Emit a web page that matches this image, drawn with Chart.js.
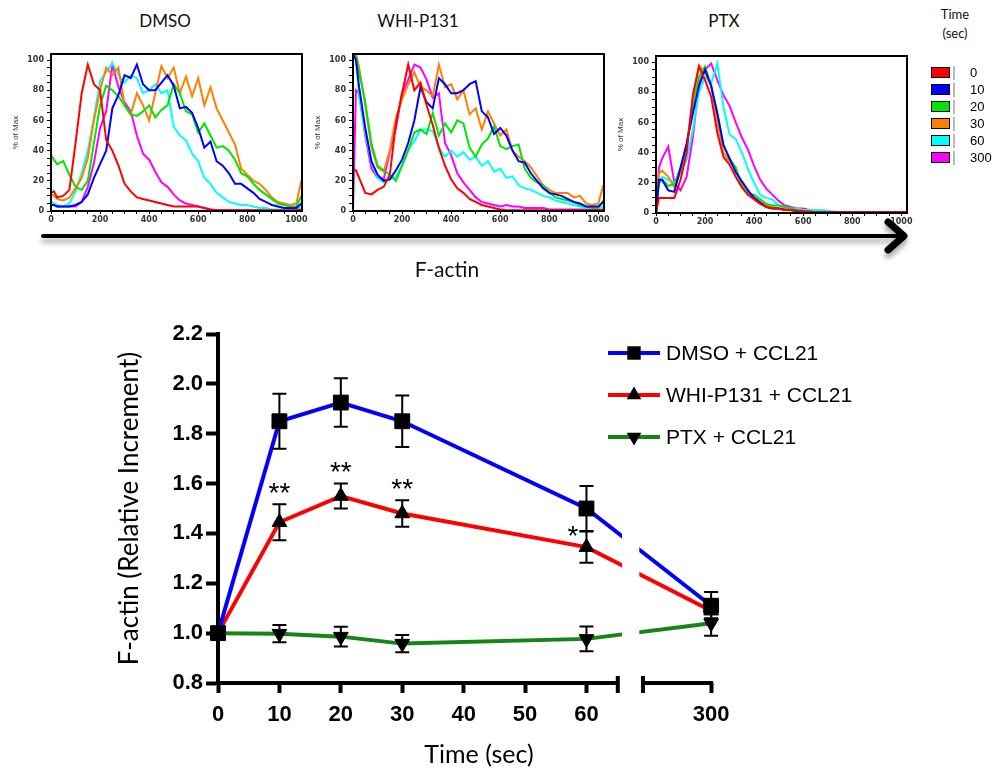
<!DOCTYPE html>
<html>
<head>
<meta charset="utf-8">
<script src="https://cdn.jsdelivr.net/npm/chart.js@4.4.1/dist/chart.umd.min.js"></script>
<style>
  html, body { margin: 0; padding: 0; background: #fff; }
  #page { position: relative; width: 996px; height: 774px; overflow: hidden; }
  canvas { position: absolute; }
  .txt { position: absolute; font-family: Lato, sans-serif; color: #111; white-space: nowrap; transform: translate(-50%, -50%); }
  .panelTitle { font-size: 17px; top: 20px; }
  #histLegend { position: absolute; left: 931px; top: 66px; font-family: 'Liberation Sans', Arial, sans-serif; font-size: 13px; }
  .legRow { position: relative; height: 17px; }
  .legBox { position: absolute; left: 0; top: 1px; width: 17px; height: 9px; border: 1.5px solid #000; }
  .legShade { position: absolute; left: 22px; top: 0; width: 2px; height: 14px; background: #bbb; }
  .legTxt { position: absolute; left: 39px; top: -1px; }
</style>
</head>
<body>
<div id="page">
  <div class="txt panelTitle" style="left:165px">DMSO</div>
  <div class="txt panelTitle" style="left:418px">WHI-P131</div>
  <div class="txt panelTitle" style="left:724px">PTX</div>
  <div class="txt" style="left:955px; top:14px; font-size:13px">Time</div>
  <div class="txt" style="left:955px; top:33px; font-size:13px">(sec)</div>

  <canvas id="histDmso" width="310" height="190" style="left:0px; top:40px"></canvas>
  <canvas id="histWhi" width="310" height="190" style="left:302px; top:40px"></canvas>
  <canvas id="histPtx" width="310" height="190" style="left:605px; top:42px"></canvas>
  <div id="histLegend"></div>

  <svg width="996" height="300" style="position:absolute; left:0; top:0">
    <defs>
      <filter id="sombra" x="-5%" y="-100%" width="110%" height="400%">
        <feDropShadow dx="0" dy="5" stdDeviation="2.5" flood-color="#777" flood-opacity="0.6"/>
      </filter>
    </defs>
    <g filter="url(#sombra)" stroke="#000" fill="none" stroke-linecap="round" stroke-linejoin="round">
      <line x1="43" y1="236" x2="902" y2="236" stroke-width="4"/>
      <polyline points="888,222 904,236 888,250" stroke-width="7"/>
    </g>
  </svg>
  <div class="txt" style="left:447px; top:268px; font-size:21px">F-actin</div>

  <canvas id="mainChart" width="996" height="474" style="left:0px; top:300px"></canvas>
</div>

<script>
// ============================================================
//  Histogramas de F-actin (% of Max)
// ============================================================
const flBins = [0, 12, 25, 50, 75, 100, 125, 150, 175, 200, 225, 250, 275, 300, 325, 350, 375, 400,
                425, 450, 475, 500, 525, 550, 575, 600, 625, 650, 675, 700, 725, 750, 775, 800,
                825, 850, 875, 900, 925, 950, 975, 1000, 1020];
const timeLabels = ['0', '10', '20', '30', '60', '300'];
const histColors = ['#ff0000', '#0000ff', '#00e600', '#ff8000', '#00ffff', '#ff00ff'];

// DMSO
const dmsoT0   = [12, 13, 9, 10, 14, 45, 78, 97, 84, 80, 47, 40, 30, 18, 13, 9, 8, 7, 6, 5, 4, 3, 3, 3, 3, 3, 2, 1,
                  0.5, 0.5, 0.5, 0.5, 0.5, 0.5, 0.5, 0.5, 0.5, 0.5, 0.5, 0.5, 0.5, 0.5, 1];
const dmsoT10  = [4, 4, 3, 3, 3, 4, 6, 11, 22, 31, 40, 68, 77, 90, 88, 97, 84, 80, 80, 85, 90, 83, 68, 69, 65,
                  55, 42, 46, 33, 30, 25, 18, 18, 15, 12, 8, 6, 4, 3, 2, 2, 2, 5];
const dmsoT20  = [37, 34, 31, 33, 24, 16, 14, 20, 45, 70, 83, 80, 76, 70, 64, 63, 66, 70, 62, 67, 70, 84, 78, 66, 64,
                  52, 58, 50, 42, 43, 40, 34, 25, 23, 18, 14, 11, 8, 5, 4, 3, 3, 10];
const dmsoT30  = [11, 10, 8, 7, 9, 15, 22, 35, 60, 80, 95, 90, 95, 70, 64, 78, 70, 60, 78, 96, 88, 95, 78, 89, 76,
                  88, 70, 82, 68, 60, 52, 44, 28, 24, 20, 18, 14, 9, 6, 5, 4, 5, 20];
const dmsoT60  = [6, 5, 4, 3, 5, 13, 25, 40, 62, 86, 92, 98, 90, 85, 90, 88, 78, 80, 84, 78, 80, 56, 50, 47, 38,
                  33, 22, 18, 12, 9, 6, 5, 4, 4, 3, 2, 2, 1, 1, 1, 1, 1, 3];
const dmsoT300 = [4, 4, 3, 3, 3, 3, 6, 16, 32, 55, 66, 97, 82, 72, 66, 50, 38, 34, 26, 19, 16, 11, 7, 5, 4, 3, 2, 1,
                  0.5, 0.5, 0.5, 0.5, 0.5, 0.5, 0.5, 0.5, 0.5, 0.5, 0.5, 0.5, 0.5, 0.5, 0.5];

// WHI-P131
const whiT0   = [27, 27, 22, 12, 11, 14, 16, 24, 58, 78, 97, 80, 85, 70, 57, 42, 30, 21, 15, 12, 8, 6, 4, 3, 2, 1,
                 0.5, 0.5, 0.5, 0.5, 0.5, 0.5, 0.5, 0.5, 0.5, 0.5, 0.5, 0.5, 0.5, 0.5, 0.5, 0.5, 0.5];
const whiT10  = [104, 100, 82, 55, 33, 24, 20, 21, 27, 34, 45, 60, 82, 72, 68, 88, 84, 78, 78, 80, 84, 86, 66, 62, 51,
                 55, 50, 40, 33, 32, 25, 20, 15, 12, 11, 10, 8, 6, 5, 3, 3, 3, 6];
const whiT20  = [104, 104, 92, 72, 45, 30, 27, 24, 20, 30, 40, 52, 54, 51, 65, 50, 58, 52, 60, 58, 42, 36, 44, 48, 56,
                 43, 41, 43, 44, 28, 22, 19, 17, 12, 9, 8, 7, 6, 4, 3, 2, 2, 7];
const whiT30  = [104, 104, 95, 70, 42, 29, 26, 40, 62, 74, 84, 92, 82, 80, 76, 97, 82, 84, 74, 80, 64, 68, 54, 66, 58,
                 50, 54, 40, 36, 33, 29, 23, 17, 14, 12, 12, 12, 9, 10, 5, 4, 5, 17];
const whiT60  = [104, 104, 75, 52, 32, 22, 19, 21, 23, 30, 41, 46, 54, 54, 53, 42, 36, 40, 36, 39, 34, 36, 30, 33, 26,
                 28, 22, 23, 17, 15, 14, 12, 10, 9, 7, 6, 5, 4, 3, 2, 2, 2, 3];
const whiT300 = [0, 80, 78, 50, 28, 22, 21, 39, 55, 78, 87, 97, 95, 87, 75, 78, 45, 37, 25, 19, 14, 9, 6, 5, 4,
                 3, 4, 3, 3, 2, 2, 2, 2, 1, 1, 1, 1, 1, 1, 1, 1, 1, 1];

// PTX
const ptxT0   = [0, 10, 10, 10, 10, 22, 40, 78, 97, 88, 77, 53, 37, 32, 24, 17, 12, 9, 6, 4, 3, 3, 2, 2, 1.5, 1, 1,
                 0.5, 0.5, 0.5, 0.5, 0.5, 0.5, 0.5, 0.5, 0.5, 0.5, 0.5, 0.5, 0.5, 0.5, 0.5, 0.5];
const ptxT10  = [0, 22, 22, 15, 14, 30, 46, 66, 84, 95, 84, 66, 45, 36, 27, 21, 15, 10, 7, 4, 3, 3, 2, 2, 1, 1, 0.5,
                 0.5, 0.5, 0.5, 0.5, 0.5, 0.5, 0.5, 0.5, 0.5, 0.5, 0.5, 0.5, 0.5, 0.5, 0.5, 0.5];
const ptxT20  = [0, 20, 22, 18, 19, 30, 45, 70, 90, 97, 84, 66, 45, 36, 30, 18, 13, 12, 9, 6, 5, 5, 4, 3, 2, 1.5, 1,
                 0.5, 0.5, 0.5, 0.5, 0.5, 0.5, 0.5, 0.5, 0.5, 0.5, 0.5, 0.5, 0.5, 0.5, 0.5, 0.5];
const ptxT30  = [0, 26, 28, 24, 17, 27, 45, 75, 98, 93, 85, 60, 40, 34, 30, 19, 12, 10, 7, 5, 4, 3, 3, 2, 1.5, 1, 0.5,
                 0.5, 0.5, 0.5, 0.5, 0.5, 0.5, 0.5, 0.5, 0.5, 0.5, 0.5, 0.5, 0.5, 0.5, 0.5, 0.5];
const ptxT60  = [0, 20, 24, 22, 20, 27, 35, 55, 80, 90, 86, 99, 70, 52, 49, 40, 29, 20, 12, 10, 9, 5, 4, 3, 3,
                 2, 2, 2, 2, 1.5, 1, 0.5, 0.5, 0.5, 0.5, 0.5, 0.5, 0.5, 0.5, 0.5, 0.5, 0.5, 0.5];
const ptxT300 = [0, 30, 36, 44, 20, 15, 24, 50, 86, 95, 99, 88, 78, 71, 60, 50, 42, 31, 22, 16, 12, 8, 5, 4, 3,
                 3, 2, 2, 1.5, 1, 0.5, 0.5, 0.5, 0.5, 0.5, 0.5, 0.5, 0.5, 0.5, 0.5, 0.5, 0.5, 0.5];

// ============================================================
//  Curso temporal (F-actin relativo)
// ============================================================
const timesSec    = [0, 10, 20, 30, 60, 300];
const xTickValues = [0, 10, 20, 30, 40, 50, 60, 300];
const seriesNames = ['DMSO + CCL21', 'WHI-P131 + CCL21', 'PTX + CCL21'];
const dmsoMean = [1.00, 1.85, 1.925, 1.85, 1.50, 1.11];
const dmsoSem  = [0, 0.11, 0.097, 0.103, 0.09, 0.055];
const whiMean  = [1.00, 1.445, 1.55, 1.48, 1.345, 1.09];
const whiSem   = [0, 0.072, 0.05, 0.053, 0.063, 0.03];
const ptxMean  = [1.00, 0.998, 0.986, 0.958, 0.977, 1.04];
const ptxSem   = [0, 0.035, 0.04, 0.035, 0.05, 0.05];
const whiSig   = ['', '**', '**', '**', '*', ''];

// eje x partido: 0-60 s lineal, 300 s se dibuja tras el corte
const BREAK_AT = 60;
const POS_300 = 80.3;
const axisPos = t => (t <= BREAK_AT ? t : POS_300);

// ============================================================
//  Histogramas
// ============================================================
const framePlugin = {
    id: 'frame',
    afterDraw(chart) {
        const { ctx, chartArea: a } = chart;
        ctx.save();
        ctx.strokeStyle = '#000';
        ctx.lineWidth = 2;
        ctx.strokeRect(a.left, a.top, a.right - a.left, a.bottom - a.top);
        ctx.restore();
    }
};

const smallTick = { family: 'DejaVu Sans', size: 8, weight: 'bold' };

function buildHisto(canvasId, series) {
    new Chart(document.getElementById(canvasId), {
        type: 'line',
        data: {
            datasets: series.map((vals, i) => ({
                label: timeLabels[i],
                data: flBins.map((x, j) => ({ x: x, y: vals[j] })),
                borderColor: histColors[i],
                borderWidth: 2,
                pointRadius: 0,
                tension: 0,
                fill: false
            }))
        },
        options: {
            responsive: false,
            animation: false,
            events: [],
            layout: { padding: { top: 14, right: 8, left: 0, bottom: 0 } },
            plugins: { legend: { display: false }, tooltip: { enabled: false } },
            scales: {
                x: {
                    type: 'linear', min: 0, max: 1023,
                    afterFit: s => { s.height = 19; },
                    border: { display: false },
                    grid: { drawOnChartArea: false, tickLength: 3, color: '#000' },
                    ticks: {
                        stepSize: 50, maxTicksLimit: 100, autoSkip: false, includeBounds: false,
                        maxRotation: 0, padding: 1, color: '#333', font: smallTick,
                        callback: v => (v % 200 === 0 ? v : '')
                    }
                },
                y: {
                    min: 0, max: 104,
                    afterFit: s => { s.width = 51; },
                    border: { display: false },
                    grid: { drawOnChartArea: false, tickLength: 4, color: '#000' },
                    ticks: {
                        stepSize: 5, maxTicksLimit: 100, autoSkip: false, includeBounds: false,
                        padding: 3, color: '#333', font: smallTick,
                        callback: v => (v % 20 === 0 ? v : '')
                    },
                    title: {
                        display: true, text: '% of Max', color: '#333',
                        font: { family: 'Liberation Sans', size: 8 },
                        padding: { top: 11, bottom: 0 }
                    }
                }
            }
        },
        plugins: [framePlugin]
    });
}

buildHisto('histDmso', [dmsoT0, dmsoT10, dmsoT20, dmsoT30, dmsoT60, dmsoT300]);
buildHisto('histWhi', [whiT0, whiT10, whiT20, whiT30, whiT60, whiT300]);
buildHisto('histPtx', [ptxT0, ptxT10, ptxT20, ptxT30, ptxT60, ptxT300]);

// leyenda común de los histogramas
const legEl = document.getElementById('histLegend');
timeLabels.forEach((t, i) => {
    const row = document.createElement('div');
    row.className = 'legRow';
    row.innerHTML = `<div class="legBox" style="background:${histColors[i]}"></div>` +
                    `<div class="legShade"></div><div class="legTxt">${t}</div>`;
    legEl.appendChild(row);
});

// ============================================================
//  Gráfica principal
// ============================================================
function drawMarker(ctx, style, x, y, r) {
    ctx.beginPath();
    if (style === 'rect') {
        const h = r * Math.SQRT1_2;
        ctx.rect(x - h, y - h, 2 * h, 2 * h);
    } else {
        const s = style === 'triangleDown' ? -1 : 1;
        ctx.moveTo(x, y - s * r);
        ctx.lineTo(x + r * 0.866, y + s * r * 0.5);
        ctx.lineTo(x - r * 0.866, y + s * r * 0.5);
        ctx.closePath();
    }
    ctx.fill();
}

const mainFont = 'Liberation Sans, Arial, sans-serif';

const brokenAxisPlugin = {
    id: 'brokenAxis',
    afterDatasetsDraw(chart) {
        const { ctx, chartArea: a, scales: { x, y } } = chart;
        ctx.save();
        // hueco del corte en las líneas
        ctx.fillStyle = '#fff';
        const g0 = x.getPixelForValue(65.8), g1 = x.getPixelForValue(68.6);
        ctx.fillRect(g0, a.top, g1 - g0, a.bottom - a.top - 4);

        // barras de error
        ctx.strokeStyle = '#000';
        ctx.lineWidth = 2;
        chart.data.datasets.forEach(ds => {
            ds.data.forEach((p, i) => {
                const e = ds.errors[i];
                if (!e) return;
                const px = x.getPixelForValue(p.x);
                const yt = y.getPixelForValue(p.y + e), yb = y.getPixelForValue(p.y - e);
                ctx.beginPath();
                ctx.moveTo(px, yt); ctx.lineTo(px, yb);
                ctx.moveTo(px - 7, yt); ctx.lineTo(px + 7, yt);
                ctx.moveTo(px - 7, yb); ctx.lineTo(px + 7, yb);
                ctx.stroke();
            });
        });

        // asteriscos de significación
        const whi = chart.data.datasets[1];
        ctx.fillStyle = '#000';
        ctx.font = '28px ' + mainFont;
        ctx.textBaseline = 'middle';
        whi.sig.forEach((s, i) => {
            if (!s) return;
            const p = whi.data[i];
            const px = x.getPixelForValue(p.x);
            const yc = y.getPixelForValue(p.y + whi.errors[i]);
            if (s.length > 1) {
                ctx.textAlign = 'center';
                ctx.fillText(s, px, yc - 10);
            } else {
                ctx.textAlign = 'right';
                ctx.fillText(s, px - 8, yc + 6);
            }
        });
        ctx.restore();
    },
    afterDraw(chart) {
        const { ctx, chartArea: a, scales: { x } } = chart;
        const yA = a.bottom;
        const x0 = x.getPixelForValue(0) - 2;
        const xe = x.getPixelForValue(65.1);
        const xs = x.getPixelForValue(69.2);
        const x3 = x.getPixelForValue(POS_300) + 2;
        ctx.save();
        ctx.strokeStyle = '#000';
        ctx.lineWidth = 4;
        ctx.beginPath();
        ctx.moveTo(x0, yA); ctx.lineTo(xe, yA);
        ctx.moveTo(xe, yA - 7); ctx.lineTo(xe, yA + 10);
        ctx.moveTo(xs, yA - 7); ctx.lineTo(xs, yA + 10);
        ctx.moveTo(xs, yA); ctx.lineTo(x3, yA);
        ctx.stroke();

        // leyenda
        const lx = 608, ly = 53, gap = 42;
        chart.data.datasets.forEach((ds, i) => {
            const yy = ly + i * gap;
            ctx.strokeStyle = ds.borderColor;
            ctx.lineWidth = 4;
            ctx.beginPath();
            ctx.moveTo(lx, yy); ctx.lineTo(lx + 52, yy);
            ctx.stroke();
            ctx.fillStyle = '#000';
            drawMarker(ctx, ds.marker, lx + 26, yy, ds.marker === 'rect' ? 9.5 : 8.5);
            ctx.font = '21px ' + mainFont;
            ctx.textAlign = 'left';
            ctx.textBaseline = 'middle';
            ctx.fillText(ds.label, lx + 58, yy + 1);
        });
        ctx.restore();
    }
};

function lineSet(label, means, sems, color, marker) {
    return {
        label: label,
        data: timesSec.map((t, i) => ({ x: axisPos(t), y: means[i] })),
        errors: sems,
        marker: marker,
        borderColor: color,
        borderWidth: 4,
        tension: 0,
        clip: false,
        pointStyle: marker === 'rect' ? 'rect' : 'triangle',
        rotation: marker === 'triangleDown' ? 180 : 0,
        pointRadius: marker === 'rect' ? 10.5 : 8.5,
        pointBackgroundColor: '#000',
        pointBorderColor: '#000',
        pointBorderWidth: 1
    };
}

const dsDmso = lineSet(seriesNames[0], dmsoMean, dmsoSem, '#0000ff', 'rect');
const dsWhi = lineSet(seriesNames[1], whiMean, whiSem, '#ff0000', 'triangle');
dsWhi.sig = whiSig;
const dsPtx = lineSet(seriesNames[2], ptxMean, ptxSem, '#168516', 'triangleDown');

new Chart(document.getElementById('mainChart'), {
    type: 'line',
    data: { datasets: [dsDmso, dsWhi, dsPtx] },
    options: {
        responsive: false,
        animation: false,
        events: [],
        layout: { padding: { top: 34, right: 256, left: 0, bottom: 0 } },
        plugins: { legend: { display: false }, tooltip: { enabled: false } },
        scales: {
            x: {
                type: 'linear', min: 0, max: 85,
                afterFit: s => { s.height = 91; },
                afterBuildTicks: s => { s.ticks = xTickValues.map(t => ({ value: axisPos(t) })); },
                border: { display: false },
                grid: { drawOnChartArea: false, tickLength: 10, tickWidth: 4, tickColor: '#000' },
                ticks: {
                    autoSkip: false, maxRotation: 0, padding: 9, color: '#000',
                    font: { family: mainFont, size: 22, weight: 'bold' },
                    callback: (v, i) => String(xTickValues[i])
                },
                title: {
                    display: true, text: 'Time (sec)', color: '#000',
                    font: { family: 'Lato', size: 25 },
                    padding: { top: 0, bottom: 4 }
                }
            },
            y: {
                min: 0.8, max: 2.2,
                afterFit: s => { s.width = 218; },
                border: { display: true, width: 4, color: '#000' },
                grid: { drawOnChartArea: false, tickLength: 12, tickWidth: 4, tickColor: '#000' },
                ticks: {
                    stepSize: 0.2, padding: 3, color: '#000',
                    font: { family: mainFont, size: 22, weight: 'bold' },
                    callback: v => v.toFixed(1)
                },
                title: {
                    display: true, text: 'F-actin (Relative Increment)', color: '#000',
                    font: { family: 'Lato', size: 26 },
                    padding: { top: 114, bottom: 0 }
                }
            }
        }
    },
    plugins: [brokenAxisPlugin]
});
</script>
</body>
</html>
